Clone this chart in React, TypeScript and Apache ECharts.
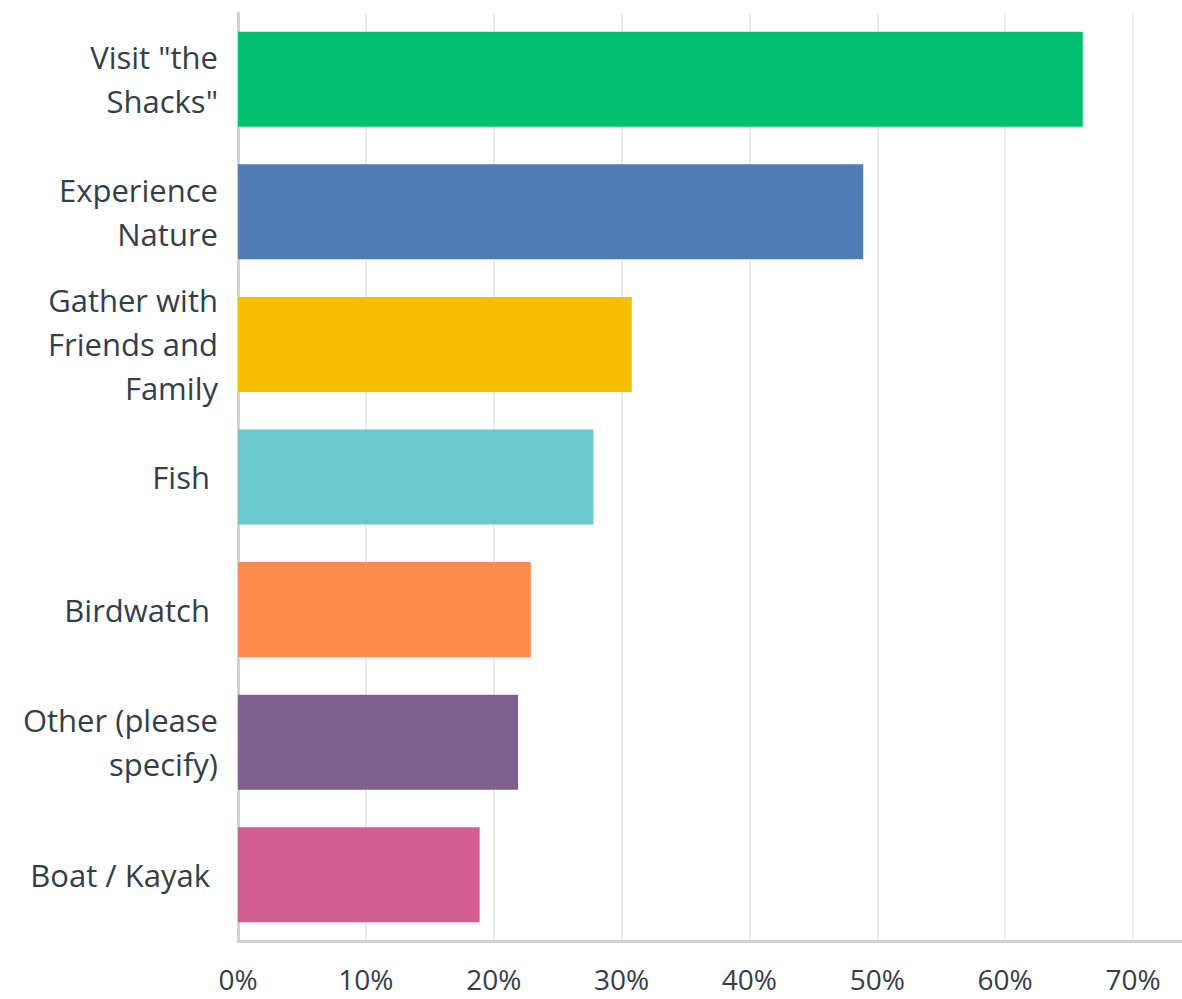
import React, { useEffect, useRef } from "react";
import * as echarts from "echarts";

const categories = [
  'Visit "the\nShacks"',
  "Experience\nNature",
  "Gather with\nFriends and\nFamily",
  "Fish ",
  "Birdwatch ",
  "Other (please\nspecify)",
  "Boat / Kayak ",
];
const values = [66.07, 48.9, 30.8, 27.8, 22.9, 21.9, 18.9];
const colors = ["#00bf6f", "#507cb6", "#f9be00", "#6bc8cd", "#ff8b4f", "#7f5f8f", "#d25f90"];
const xTicks = [0, 10, 20, 30, 40, 50, 60, 70];

export default function App() {
  const ref = useRef<HTMLDivElement>(null);
  useEffect(() => {
    document.body.style.margin = "0";
    if (!ref.current) return;
    const chart = echarts.init(ref.current, undefined, { renderer: "svg" });
    chart.setOption({
      animation: false,
      grid: { left: 238, right: 49, top: 13, bottom: 58, containLabel: false },
      graphic: [
        {
          type: "line",
          shape: { x1: 1130, y1: 941.5, x2: 1182, y2: 941.5 },
          style: { stroke: "#d2d2d2", lineWidth: 3 },
          silent: true,
        },
      ],
      xAxis: {
        type: "value",
        min: xTicks[0],
        max: xTicks[xTicks.length - 1],
        interval: 10,
        axisLine: { show: true, lineStyle: { color: "#d2d2d2", width: 3 } },
        axisTick: { show: false },
        splitLine: { show: true, lineStyle: { color: "#ececec", width: 2 } },
        axisLabel: {
          formatter: (v: number) => `${v}%`,
          color: "#333e48",
          fontSize: 28,
          lineHeight: 28,
          fontFamily: "Open Sans",
          margin: 24,
        },
      },
      yAxis: {
        type: "category",
        data: categories,
        inverse: true,
        axisLine: { show: true, lineStyle: { color: "#d2d2d2", width: 3 } },
        axisTick: { show: false },
        splitLine: { show: false },
        axisLabel: {
          color: "#333e48",
          fontSize: 31,
          fontFamily: "Open Sans",
          lineHeight: 44,
          align: "right",
          margin: 20,
        },
      },
      series: [
        {
          type: "bar",
          barWidth: 95,
          data: values.map((v, i) => ({ value: v, itemStyle: { color: colors[i] } })),
        },
      ],
    });
    return () => chart.dispose();
  }, []);
  return <div ref={ref} style={{ width: 1182, height: 999 }} />;
}
